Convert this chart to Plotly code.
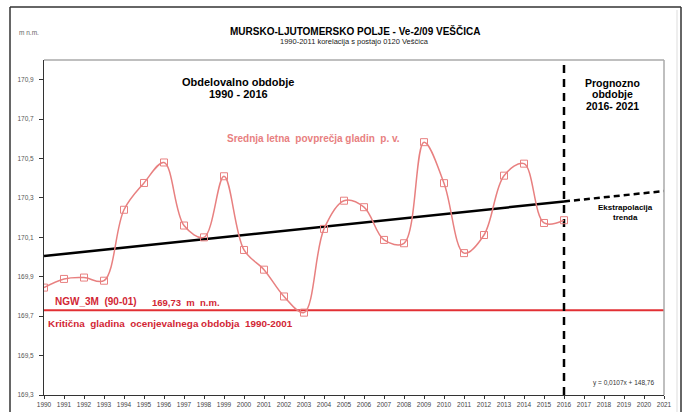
import plotly.graph_objects as go

# ---- data ----
years = list(range(1990, 2017))
levels = [169.845, 169.889, 169.896, 169.880, 170.240, 170.376, 170.480, 170.160,
          170.100, 170.410, 170.036, 169.936, 169.800, 169.718, 170.143, 170.286,
          170.253, 170.087, 170.070, 170.583, 170.375, 170.020, 170.112, 170.413,
          170.474, 170.173, 170.187]
trend_years_obs = [1990, 2016]
trend_vals_obs = [170.005, 170.282]
trend_years_fc = [2016, 2021]
trend_vals_fc = [170.282, 170.335]
critical_level = 169.73
split_year = 2016
x_tick_vals = list(range(1990, 2022))
x_tick_text = [str(y) for y in x_tick_vals]
y_tick_vals = [169.3, 169.5, 169.7, 169.9, 170.1, 170.3, 170.5, 170.7, 170.9]
y_tick_text = ["169,3", "169,5", "169,7", "169,9", "170,1", "170,3", "170,5", "170,7", "170,9"]

PINK = "rgb(232,128,128)"
RED = "rgb(226,48,52)"
RED_TXT = "rgb(210,38,52)"
FONT = "Liberation Sans, Arial, sans-serif"

fig = go.Figure()

# critical level line
fig.add_trace(go.Scatter(x=[1990, 2021], y=[critical_level, critical_level], mode="lines",
                         line=dict(color=RED, width=2), hoverinfo="skip", showlegend=False))
# trend (observed + extrapolation)
fig.add_trace(go.Scatter(x=trend_years_obs, y=trend_vals_obs, mode="lines",
                         line=dict(color="black", width=2.5), showlegend=False))
fig.add_trace(go.Scatter(x=trend_years_fc, y=trend_vals_fc, mode="lines",
                         line=dict(color="black", width=2.5, dash="6px,4px"), showlegend=False))
# split line
fig.add_trace(go.Scatter(x=[split_year, split_year], y=[169.3, 171.0], mode="lines",
                         line=dict(color="black", width=2.5, dash="8px,6px"), showlegend=False))
# mean annual levels
fig.add_trace(go.Scatter(x=years, y=levels, mode="lines+markers",
                         line=dict(color=PINK, width=1.5, shape="spline", smoothing=1),
                         marker=dict(symbol="square-open", size=7, color=PINK,
                                     line=dict(color=PINK, width=1)),
                         showlegend=False))

ann = []
def A(text, x, y, size, color="black", bold=True, xref="x", yref="y", xanchor="center"):
    ann.append(dict(text=("<b>%s</b>" % text) if bold else text, x=x, y=y, xref=xref, yref=yref,
                    showarrow=False, xanchor=xanchor, yanchor="middle",
                    font=dict(family=FONT, size=size, color=color)))

# pixel -> data helpers
def px_x(px):
    return 1990 + (px - 44) / 20.0
def px_y(py):
    return 169.3 + (395 - py) * (1.7 / 335)

A("Obdelovalno obdobje", px_x(238), px_y(82), 11)
A("1990 - 2016", px_x(238), px_y(93.5), 11)
A("Prognozno", px_x(612), px_y(82.5), 10.5)
A("obdobje", px_x(612), px_y(94), 10.5)
A("2016- 2021", px_x(612), px_y(105.5), 10.5)
A("Srednja letna  povprečja gladin  p. v.", px_x(313), px_y(138.5), 10, color=PINK)
A("Ekstrapolacija", px_x(625), px_y(207), 8)
A("trenda", px_x(625), px_y(217), 8)
A("NGW_3M  (90-01)", px_x(96), px_y(301.5), 10, color=RED_TXT)
A("169,73  m  n.m.", px_x(186), px_y(302), 9.5, color=RED_TXT)
A("Kritična  gladina  ocenjevalnega obdobja  1990-2001", px_x(170), px_y(323.5), 9.9, color=RED_TXT)
A("y = 0,0107x + 148,76", px_x(623.5), px_y(382.5), 6.5, color="#333", bold=False)

# title / labels (paper coordinates)
def ppx(px):
    return (px - 44) / 620
def ppy(py):
    return (395 - py) / 335
A("MURSKO-LJUTOMERSKO POLJE - Ve-2/09 VEŠČICA", ppx(355), ppy(31), 10, xref="paper", yref="paper")
A("1990-2011 korelacija s postajo 0120 Veščica", ppx(354), ppy(41.5), 7.5, bold=False,
  xref="paper", yref="paper", color="#222")
A("m n.m.", ppx(28.5), ppy(32), 6.5, bold=False, xref="paper", yref="paper", color="#666")

shapes = [
    # outer frame
    dict(type="line", xref="paper", yref="paper", x0=ppx(10), x1=ppx(10), y0=ppy(7), y1=ppy(420),
         line=dict(color="#333", width=1.5)),
    dict(type="line", xref="paper", yref="paper", x0=ppx(10), x1=ppx(681), y0=ppy(7), y1=ppy(7),
         line=dict(color="#333", width=1.5)),
    dict(type="line", xref="paper", yref="paper", x0=ppx(681), x1=ppx(681), y0=ppy(7), y1=ppy(420),
         line=dict(color="#333", width=1.5)),
    dict(type="line", xref="paper", yref="paper", x0=ppx(677), x1=ppx(677), y0=ppy(10), y1=ppy(420),
         line=dict(color="#ddd", width=1)),
    # plot-area top/right border
    dict(type="line", xref="paper", yref="paper", x0=0, x1=1, y0=1, y1=1,
         line=dict(color="#aaa", width=1.5)),
    dict(type="line", xref="paper", yref="paper", x0=1, x1=1, y0=0, y1=1,
         line=dict(color="#aaa", width=1.5)),
]

fig.update_layout(
    width=684, height=412, autosize=False,
    margin=dict(l=44, r=20, t=60, b=17, autoexpand=False),
    paper_bgcolor="white", plot_bgcolor="white",
    annotations=ann, shapes=shapes,
    font=dict(family=FONT),
    xaxis=dict(range=[1990, 2021], tickvals=x_tick_vals, ticktext=x_tick_text, automargin=False,
               showgrid=False, zeroline=False, showline=True, linecolor="#333", linewidth=1,
               ticks="outside", ticklen=3, tickcolor="#333",
               tickfont=dict(family=FONT, size=6.5, color="#444"), tickangle=0),
    yaxis=dict(range=[169.3, 171.0], tickvals=y_tick_vals, ticktext=y_tick_text, automargin=False,
               showgrid=False, zeroline=False, showline=True, linecolor="#333", linewidth=1,
               ticks="outside", ticklen=4, tickcolor="#333", ticklabelstandoff=4,
               tickfont=dict(family=FONT, size=6.5, color="#555")),
)

fig.write_html("out.html", config={"displayModeBar": False},
               post_script="document.body.style.margin='0';document.body.style.overflow='hidden';")
